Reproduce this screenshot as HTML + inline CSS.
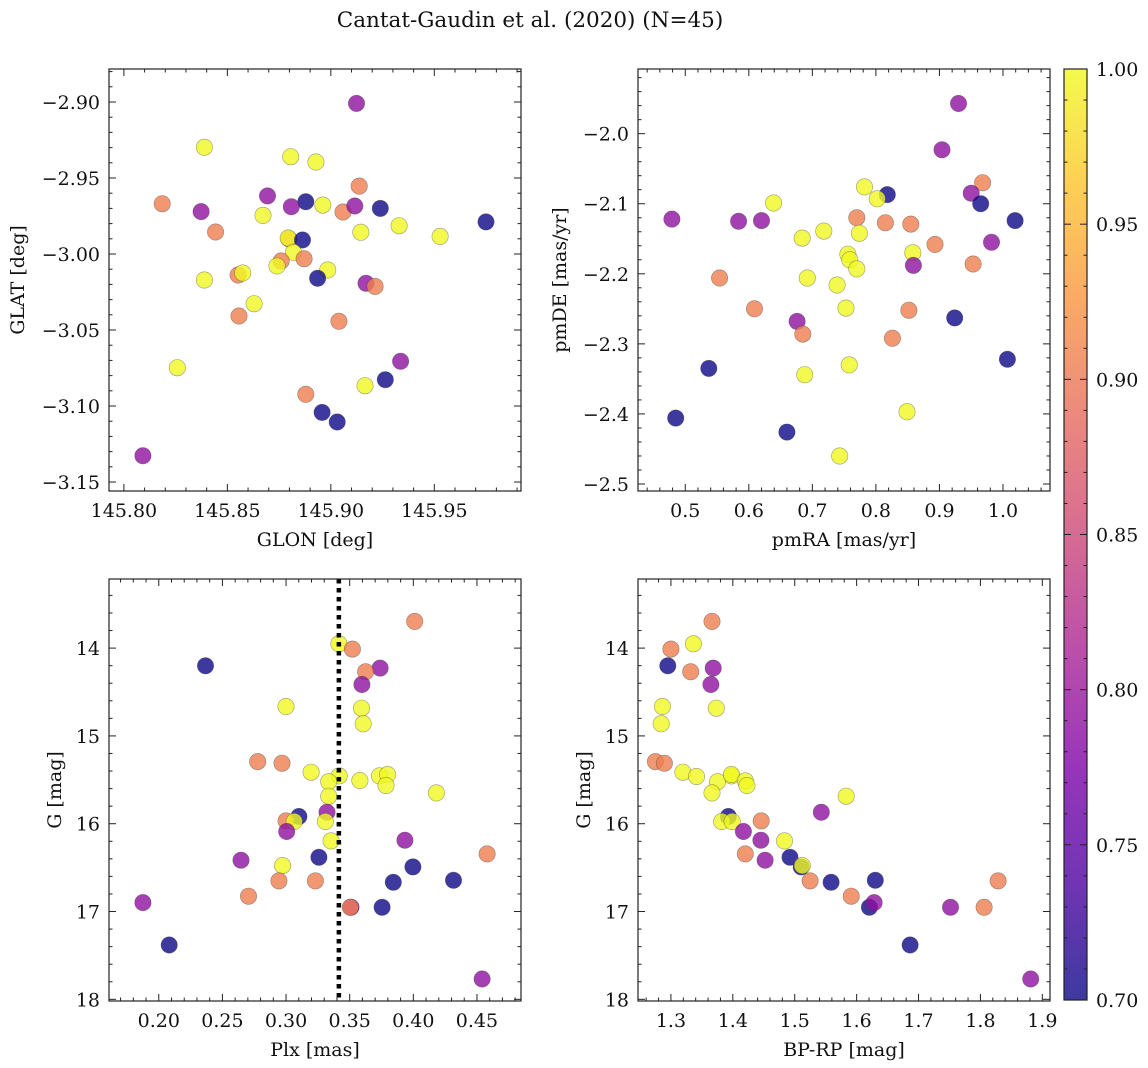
<!DOCTYPE html>
<html><head><meta charset="utf-8"><style>
html,body{margin:0;padding:0;background:#fff;}
svg{display:block;font-family:"DejaVu Serif","Liberation Serif",serif;}
</style></head><body>
<svg id="fig" width="1148" height="1068" viewBox="0 0 1148 1068" xmlns="http://www.w3.org/2000/svg">
<rect width="1148" height="1068" fill="#fff"/>
<text x="530" y="27" font-size="21.5" text-anchor="middle" fill="#111">Cantat-Gaudin et al. (2020) (N=45)</text>
<defs>
<linearGradient id="plasma" x1="0" y1="1" x2="0" y2="0">
<stop offset="0" stop-color="#0d0887"/><stop offset="0.125" stop-color="#4c02a1"/><stop offset="0.25" stop-color="#7e03a8"/><stop offset="0.375" stop-color="#a92395"/><stop offset="0.5" stop-color="#cc4778"/><stop offset="0.625" stop-color="#e56b5d"/><stop offset="0.75" stop-color="#f89441"/><stop offset="0.875" stop-color="#fdc328"/><stop offset="1" stop-color="#f0f921"/>
</linearGradient>
</defs>
<g id="layer"></g>
</svg>
<script>
// Panel 1: GLON vs GLAT
const p1x=[145.9124,145.8389,145.8806,145.8928,145.9137,145.8185,145.8694,145.8879,145.8961,145.8373,145.8809,145.8672,145.9059,145.9116,145.9239,145.9750,145.9330,145.9528,145.9145,145.8443,145.8797,145.8794,145.8863,145.8819,145.8760,145.8871,145.8740,145.8552,145.8574,145.8389,145.8985,145.8936,145.9170,145.9214,145.8629,145.8556,145.9039,145.9337,145.8258,145.9263,145.9165,145.8879,145.8958,145.9031,145.8092];
const p1y=[-2.9009,-2.9298,-2.9360,-2.9395,-2.9553,-2.9669,-2.9618,-2.9656,-2.9678,-2.9721,-2.9689,-2.9746,-2.9724,-2.9684,-2.9700,-2.9789,-2.9814,-2.9884,-2.9857,-2.9855,-2.9900,-2.9895,-2.9908,-2.9989,-3.0046,-3.0031,-3.0079,-3.0138,-3.0125,-3.0171,-3.0105,-3.0160,-3.0193,-3.0213,-3.0327,-3.0408,-3.0443,-3.0706,-3.0748,-3.0827,-3.0866,-3.0923,-3.1042,-3.1105,-3.1327];
const p1c=[0.79,1,1,1,0.905,0.905,0.79,0.7,1,0.79,0.79,1,0.905,0.79,0.7,0.7,1,1,1,0.905,0.905,1,0.7,1,0.905,0.905,1,0.905,1,1,1,0.7,0.79,0.905,1,0.905,0.905,0.79,1,0.7,1,0.905,0.7,0.7,0.79];
// Panel 2: pmRA vs pmDE
const p2x=[0.930,0.904,0.968,0.950,0.818,0.782,0.802,0.965,0.639,0.479,0.584,0.620,1.019,0.770,0.815,0.855,0.684,0.718,0.774,0.893,0.982,0.756,0.759,0.770,0.858,0.859,0.953,0.554,0.692,0.739,0.609,0.753,0.852,0.676,0.924,0.685,0.826,1.007,0.537,0.688,0.758,0.849,0.485,0.660,0.743];
const p2y=[-1.957,-2.023,-2.070,-2.085,-2.087,-2.076,-2.093,-2.100,-2.099,-2.122,-2.125,-2.124,-2.124,-2.120,-2.127,-2.129,-2.149,-2.139,-2.142,-2.158,-2.155,-2.172,-2.180,-2.193,-2.170,-2.188,-2.186,-2.206,-2.206,-2.216,-2.250,-2.249,-2.252,-2.268,-2.263,-2.286,-2.292,-2.322,-2.335,-2.344,-2.330,-2.397,-2.406,-2.426,-2.460];
const p2c=[0.79,0.79,0.905,0.79,0.7,1,1,0.7,1,0.79,0.79,0.79,0.7,0.905,0.905,0.905,1,1,1,0.905,0.79,1,1,1,1,0.79,0.905,0.905,1,1,0.905,1,0.905,0.79,0.7,0.905,0.905,0.7,0.7,1,1,1,0.7,0.7,1];
// Panel 3: Plx vs G
const p3x=[0.4011,0.3415,0.3521,0.2367,0.3739,0.3625,0.3596,0.3000,0.3593,0.3606,0.2777,0.2968,0.3197,0.3418,0.3335,0.3580,0.3734,0.3798,0.3785,0.4181,0.3335,0.3322,0.3101,0.3000,0.3064,0.3309,0.3005,0.3354,0.3934,0.4580,0.2646,0.3258,0.2973,0.3997,0.3843,0.4316,0.2944,0.3231,0.2705,0.1875,0.3510,0.3505,0.3755,0.2082,0.4540];
const p3y=[13.696,13.951,14.011,14.201,14.228,14.270,14.414,14.665,14.684,14.862,15.292,15.311,15.413,15.455,15.523,15.508,15.455,15.440,15.565,15.649,15.687,15.869,15.918,15.968,15.975,15.975,16.089,16.196,16.188,16.344,16.416,16.382,16.477,16.492,16.667,16.644,16.651,16.651,16.826,16.898,16.952,16.952,16.952,17.381,17.768];
const p3c=[0.905,1,0.905,0.7,0.79,0.905,0.79,1,1,1,0.905,0.905,1,1,1,1,1,1,1,1,1,0.79,0.7,0.905,1,1,0.79,1,0.79,0.905,0.79,0.7,1,0.7,0.7,0.7,0.905,0.905,0.905,0.79,0.79,0.905,0.7,0.7,0.79];
const plxLine=[0.3415];
// Panel 4: BP-RP vs G
const p4x=[1.3664,1.3363,1.3000,1.2950,1.3683,1.3319,1.3645,1.2862,1.3733,1.2843,1.2749,1.2894,1.3194,1.3977,1.3752,1.3413,1.3977,1.4202,1.4228,1.5831,1.3664,1.5430,1.3927,1.4459,1.3820,1.3990,1.4171,1.4835,1.4453,1.4202,1.4522,1.4923,1.5104,1.5123,1.5587,1.6301,1.5248,1.8286,1.5912,1.6207,1.6282,1.8060,1.7516,1.6864,1.8812];
const p4y=[13.696,13.951,14.011,14.201,14.228,14.270,14.414,14.665,14.684,14.862,15.292,15.311,15.413,15.455,15.523,15.462,15.440,15.512,15.565,15.687,15.649,15.869,15.918,15.968,15.975,15.975,16.089,16.196,16.188,16.344,16.416,16.382,16.492,16.477,16.667,16.644,16.651,16.651,16.826,16.952,16.898,16.952,16.952,17.381,17.768];
const p4c=[0.905,1,0.905,0.7,0.79,0.905,0.79,1,1,1,0.905,0.905,1,1,1,1,1,1,1,1,1,0.79,0.7,0.905,1,1,0.79,1,0.79,0.905,0.79,0.7,0.7,1,0.7,0.7,0.905,0.905,0.905,0.7,0.79,0.905,0.79,0.7,0.79];
// Tick labels
const p1xt=["145.80","145.85","145.90","145.95"];
const p1yt=["−2.90","−2.95","−3.00","−3.05","−3.10","−3.15"];
const p2xt=["0.5","0.6","0.7","0.8","0.9","1.0"];
const p2yt=["−2.0","−2.1","−2.2","−2.3","−2.4","−2.5"];
const p3xt=["0.20","0.25","0.30","0.35","0.40","0.45"];
const gyt=["14","15","16","17","18"];
const p4xt=["1.3","1.4","1.5","1.6","1.7","1.8","1.9"];
const cbt=["0.70","0.75","0.80","0.85","0.90","0.95","1.00"];

const NS="http://www.w3.org/2000/svg";
const layer=document.getElementById('layer');
const FS=19;
function mk(tag,attrs,parent){const e=document.createElementNS(NS,tag);for(const k in attrs)e.setAttribute(k,attrs[k]);(parent||layer).appendChild(e);return e;}
const stops=[[0,[13,8,135]],[0.125,[76,2,161]],[0.25,[126,3,168]],[0.375,[169,35,149]],[0.5,[204,71,120]],[0.625,[229,107,93]],[0.75,[248,148,65]],[0.875,[253,195,40]],[1,[240,249,33]]];
function plasma(v){let t=(v-0.7)/0.3;t=Math.max(0,Math.min(1,t));for(let i=1;i<stops.length;i++){if(t<=stops[i][0]){const a=stops[i-1],b=stops[i];const f=(t-a[0])/(b[0]-a[0]);return 'rgb('+a[1].map((c,j)=>Math.round(c+(b[1][j]-c)*f)).join(',')+')';}}return 'rgb(240,249,33)';}

function panel(cfg){
  const {L,T,W,H,x0,x1,y0,y1,invert}=cfg;
  const sx=v=>L+(v-x0)/(x1-x0)*W;
  const sy=invert?(v=>T+(v-y0)/(y1-y0)*H):(v=>T+(y1-v)/(y1-y0)*H);
  const g=mk('g',{});
  
  
  for(let i=0;i<cfg.xs.length;i++){
    const c=mk('circle',{cx:sx(cfg.xs[i]).toFixed(1),cy:sy(cfg.ys[i]).toFixed(1),r:8.2,fill:plasma(cfg.cs[i]),'fill-opacity':0.8,stroke:'rgba(60,60,60,0.5)','stroke-width':0.6},g);
    
    
  }
  if(cfg.vline!==undefined){
    const ln=mk('line',{x1:sx(cfg.vline),x2:sx(cfg.vline),y1:T,y2:T+H,stroke:'#000','stroke-width':4.5,'stroke-dasharray':'4.5 4.5'},g);
    
    
  }
  const fr=mk('rect',{x:L,y:T,width:W,height:H,fill:'none',stroke:'#222','stroke-width':1.2},g);
  
  
  const tk=(x1_,y1_,x2_,y2_,w)=>mk('line',{x1:x1_,y1:y1_,x2:x2_,y2:y2_,stroke:'#222','stroke-width':w},g);
  const xs0=Math.ceil((x0-1e-9)/cfg.xmin);
  for(let k=xs0;k*cfg.xmin<=x1+1e-9;k++){
    const v=k*cfg.xmin;const px=sx(v);
    const major=Math.abs(v/cfg.xmaj-Math.round(v/cfg.xmaj))<1e-6;
    const len=major?7:3.5;
    tk(px,T+H,px,T+H-len,1);tk(px,T,px,T+len,1);
  }
  const ys0=Math.ceil((Math.min(y0,y1)-1e-9)/cfg.ymin);
  for(let k=ys0;k*cfg.ymin<=Math.max(y0,y1)+1e-9;k++){
    const v=k*cfg.ymin;const py=sy(v);
    const major=Math.abs(v/cfg.ymaj-Math.round(v/cfg.ymaj))<1e-6;
    const len=major?7:3.5;
    tk(L,py,L+len,py,1);tk(L+W,py,L+W-len,py,1);
  }
  cfg.xt.forEach(s=>{const v=parseFloat(s.replace('−','-'));const t=mk('text',{x:sx(v),y:T+H+26,'font-size':FS,'text-anchor':'middle',fill:'#111'},g);t.textContent=s;
    
    });
  cfg.yt.forEach(s=>{const v=parseFloat(s.replace('−','-'));const t=mk('text',{x:L-9,y:sy(v)+7,'font-size':FS,'text-anchor':'end',fill:'#111'},g);t.textContent=s;
    
    });
  const xl=mk('text',{x:L+W/2,y:T+H+55,'font-size':FS,'text-anchor':'middle',fill:'#111'},g);xl.textContent=cfg.xlabel;
  
  
  const yl=mk('text',{x:0,y:0,'font-size':FS,'text-anchor':'middle',fill:'#111',transform:'translate('+cfg.ylx+','+(T+H/2)+') rotate(-90)'},g);yl.textContent=cfg.ylabel;
  
  
}
panel({name:'glon-glat-panel',L:109,T:69,W:412,H:422,x0:145.7928,x1:145.9919,y0:-3.1559,y1:-2.8783,xs:p1x,ys:p1y,cs:p1c,xmaj:0.05,xmin:0.01,ymaj:0.05,ymin:0.01,xt:p1xt,yt:p1yt,xlabel:'GLON [deg]',ylabel:'GLAT [deg]',ylx:24});
panel({name:'proper-motion-panel',L:638,T:69,W:412,H:422,x0:0.4256,x1:1.0740,y0:-2.5100,y1:-1.9077,xs:p2x,ys:p2y,cs:p2c,xmaj:0.1,xmin:0.02,ymaj:0.1,ymin:0.02,xt:p2xt,yt:p2yt,xlabel:'pmRA [mas/yr]',ylabel:'pmDE [mas/yr]',ylx:566});
panel({name:'parallax-magnitude-panel',L:109,T:579,W:412,H:422,x0:0.1609,x1:0.4846,y0:13.213,y1:18.019,invert:true,xs:p3x,ys:p3y,cs:p3c,vline:plxLine[0],xmaj:0.05,xmin:0.01,ymaj:1,ymin:0.2,xt:p3xt,yt:gyt,xlabel:'Plx [mas]',ylabel:'G [mag]',ylx:61});
panel({name:'color-magnitude-panel',L:638,T:579,W:412,H:422,x0:1.2468,x1:1.9124,y0:13.213,y1:18.019,invert:true,xs:p4x,ys:p4y,cs:p4c,xmaj:0.1,xmin:0.02,ymaj:1,ymin:0.2,xt:p4xt,yt:gyt,xlabel:'BP-RP [mag]',ylabel:'G [mag]',ylx:590});

const cb=mk('g',{});


const CL=1064,CT=69,CW=23,CH=931;
mk('rect',{x:CL,y:CT,width:CW,height:CH,fill:'url(#plasma)','fill-opacity':0.8},cb);
mk('rect',{x:CL,y:CT,width:CW,height:CH,fill:'none',stroke:'#222','stroke-width':1.2},cb);
const cy=v=>CT+(1-v)/(0.3)*CH;
for(let k=70;k<=100;k++){const v=k/100;const major=k%5===0;const len=major?7:3.5;
  mk('line',{x1:CL,x2:CL+len,y1:cy(v),y2:cy(v),stroke:'#222','stroke-width':1},cb);
  mk('line',{x1:CL+CW,x2:CL+CW-len,y1:cy(v),y2:cy(v),stroke:'#222','stroke-width':1},cb);}
cbt.forEach(s=>{const t=mk('text',{x:CL+CW+9,y:cy(parseFloat(s))+7,'font-size':FS,fill:'#111'},cb);t.textContent=s;
  
  });
</script>
</body></html>
